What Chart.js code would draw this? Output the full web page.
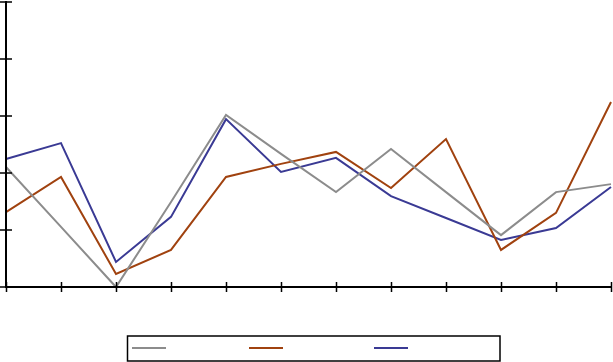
<!DOCTYPE html>
<html>
<head>
<meta charset="utf-8">
<script src="https://cdn.jsdelivr.net/npm/chart.js@4"></script>
<style>
html,body{margin:0;padding:0;background:#fff;}
#wrap{width:613px;height:362px;position:relative;}
</style>
</head>
<body>
<div id="wrap"><canvas id="c" width="613" height="362"></canvas></div>
<script>
const categories = ["1","2","3","4","5","6","7","8","9","10","11","12"];
const seriesGray   = [42.1, 21.1, 0.0, 29.8, 60.4, 46.7, 33.3, 48.4, 33.3, 18.2, 33.3, 36.1];
const seriesOrange = [26.3, 38.6, 4.6, 13.0, 38.6, 43.2, 47.4, 34.7, 51.9, 13.0, 26.0, 64.9];
const seriesBlue   = [44.9, 50.5, 8.8, 24.6, 58.9, 40.4, 45.3, 31.9, 24.2, 16.5, 20.7, 35.1];
const yMin = 0, yMax = 100, yStep = 20;

const axesPlugin = {
  id: 'axesPlugin',
  afterDraw(chart) {
    const ctx = chart.ctx;
    const a = chart.chartArea;
    const xs = chart.scales.x, ys = chart.scales.y;
    ctx.save();
    ctx.strokeStyle = '#000';
    ctx.lineWidth = 2;
    ctx.beginPath();
    ctx.moveTo(a.left, a.top - 1);
    ctx.lineTo(a.left, a.bottom);
    ctx.lineTo(a.right + 1, a.bottom);
    ctx.stroke();
    ctx.lineWidth = 1.5;
    ctx.beginPath();
    ys.ticks.forEach((t, i) => {
      const y = Math.round(ys.getPixelForTick(i));
      ctx.moveTo(a.left - 6, y);
      ctx.lineTo(a.left + 6, y);
    });
    xs.ticks.forEach((t, i) => {
      const x = Math.round(xs.getPixelForTick(i)) + 0.5;
      ctx.moveTo(x, a.bottom - 5);
      ctx.lineTo(x, a.bottom + 5);
    });
    ctx.stroke();
    // legend box
    ctx.lineWidth = 1.5;
    ctx.strokeRect(127.5, 336, 372.5, 25);
    const starts = [132, 249, 374];
    chart.data.datasets.forEach((ds, i) => {
      ctx.strokeStyle = ds.borderColor;
      ctx.lineWidth = 2;
      ctx.beginPath();
      ctx.moveTo(starts[i], 348);
      ctx.lineTo(starts[i] + 34, 348);
      ctx.stroke();
    });
    ctx.restore();
  }
};

new Chart(document.getElementById('c'), {
  type: 'line',
  data: {
    labels: categories,
    datasets: [
      {label: '', data: seriesGray, borderColor: '#8c8c8c', borderWidth: 2, pointRadius: 0, tension: 0, fill: false, clip: false},
      {label: '', data: seriesOrange, borderColor: '#a0420f', borderWidth: 2, pointRadius: 0, tension: 0, fill: false, clip: false},
      {label: '', data: seriesBlue, borderColor: '#3a3a94', borderWidth: 2, pointRadius: 0, tension: 0, fill: false, clip: false}
    ]
  },
  options: {
    responsive: false,
    animation: false,
    devicePixelRatio: 1,
    layout: {padding: {left: 6, right: 2, top: 2, bottom: 75}},
    plugins: {legend: {display: false}, tooltip: {enabled: false}},
    scales: {
      x: {display: false, offset: false},
      y: {display: false, min: yMin, max: yMax, ticks: {stepSize: yStep}}
    }
  },
  plugins: [axesPlugin]
});
</script>
</body>
</html>
